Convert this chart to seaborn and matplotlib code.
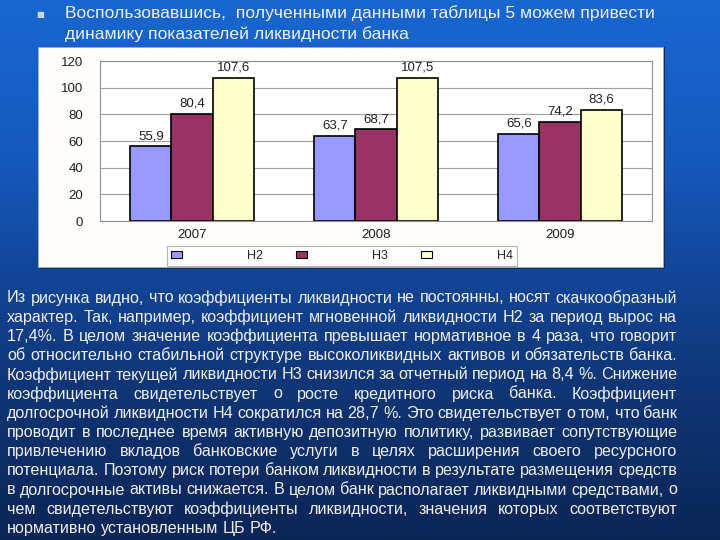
import numpy as np
import pandas as pd
import seaborn as sns
import matplotlib.pyplot as plt
from matplotlib.colors import LinearSegmentedColormap
from matplotlib.patches import Rectangle, Patch

# data
years = ['2007', '2008', '2009']
h2 = [55.9, 63.7, 65.6]
h3 = [80.4, 68.7, 74.2]
h4 = [107.6, 107.5, 83.6]
series_names = ['Н2', 'Н3', 'Н4']
colors = ['#9999FF', '#993366', '#FFFFCC']
y_ticks = [0, 20, 40, 60, 80, 100, 120]

title_lines = ['Воспользовавшись,  полученными данными таблицы 5 можем привести',
               'динамику показателей ликвидности банка']
body_lines = [
    'Из рисунка  видно, что коэффициенты ликвидности не постоянны, носят скачкообразный',
    'характер. Так, например, коэффициент мгновенной ликвидности Н2 за период вырос на',
    '17,4%. В целом значение коэффициента превышает нормативное в 4 раза, что говорит',
    'об относительно стабильной структуре высоколиквидных активов и обязательств банка.',
    'Коэффициент текущей ликвидности Н3 снизился за отчетный период на 8,4 %. Снижение',
    'коэффициента свидетельствует о росте кредитного риска банка. Коэффициент',
    'долгосрочной ликвидности Н4 сократился на 28,7 %. Это свидетельствует о том, что банк',
    'проводит в последнее время активную депозитную политику, развивает сопутствующие',
    'привлечению вкладов банковские услуги в целях расширения своего ресурсного',
    'потенциала. Поэтому риск потери банком ликвидности в результате размещения средств',
    'в долгосрочные активы снижается. В целом банк располагает ликвидными средствами, о',
    'чем свидетельствуют коэффициенты ликвидности, значения которых соответствуют',
    'нормативно установленным ЦБ РФ.',
]

df = pd.DataFrame({
    'year': years * 3,
    'ind': [series_names[0]] * 3 + [series_names[1]] * 3 + [series_names[2]] * 3,
    'value': h2 + h3 + h4,
})

sns.set_style('white')
plt.rcParams['font.family'] = ['Liberation Sans', 'DejaVu Sans']

W, H = 720, 540
fig = plt.figure(figsize=(7.2, 5.4), dpi=100)

# slide background, with the chart box drawn on it
bg = fig.add_axes([0, 0, 1, 1], zorder=-10)
cmap = LinearSegmentedColormap.from_list('slide', [
    (0.0, '#1866D0'), (0.3, '#1659BC'), (0.5, '#12469A'),
    (0.7, '#0F3778'), (1.0, '#0B2556')])
bg.imshow(np.linspace(0, 1, 256).reshape(-1, 1), aspect='auto', cmap=cmap,
          extent=[0, 1, 0, 1])
bg.add_patch(Rectangle((40 / W, 1 - 269 / H), 625 / W, 222 / H,
                       transform=bg.transAxes, facecolor='#1A2A50',
                       edgecolor='none'))
bg.add_patch(Rectangle((38 / W, 1 - 267 / H), 625 / W, 220 / H,
                       transform=bg.transAxes, facecolor='#FFFEFB',
                       edgecolor='#B0B0B0', linewidth=0.6))
bg.set_xlim(0, 1)
bg.set_ylim(0, 1)
bg.set_axis_off()

ax = fig.add_axes([100 / W, 1 - 221 / H, 552 / W, 160 / H], zorder=5)
sns.barplot(data=df, x='year', y='value', hue='ind', palette=colors,
            width=0.67, edgecolor='black', linewidth=1.2, saturation=1,
            legend=False, ax=ax)
ax.set_ylim(0, 120)
ax.set_yticks(y_ticks)
ax.set_xlabel('')
ax.set_ylabel('')
ax.set_facecolor('white')
ax.yaxis.grid(True, color='#A0A0A0', linewidth=0.8)
ax.set_axisbelow(True)
for s in ax.spines.values():
    s.set_color('#909090')
    s.set_linewidth(0.8)
ax.tick_params(axis='both', labelsize=9.5, colors='#202020', length=0, pad=12)
ax.tick_params(axis='x', pad=6)
for cont in ax.containers:
    labels = [f'{b.get_height():.1f}'.replace('.', ',') for b in cont]
    ax.bar_label(cont, labels=labels, fontsize=9.5, padding=3, color='#202020')

handles = [Patch(facecolor=c, edgecolor='black', linewidth=0.8) for c in colors]
leg = fig.legend(handles, series_names, loc='center', ncol=3,
                 bbox_to_anchor=(342 / W, 1 - 256 / H), fontsize=9,
                 handlelength=0.9, handleheight=0.5, handletextpad=5.2,
                 columnspacing=2.6, frameon=True, fancybox=False,
                 borderpad=0.3)
leg.set_zorder(6)
leg.get_frame().set_edgecolor('#A0A0A0')
leg.get_frame().set_linewidth(0.8)

# title with bullet
fig.text(40 / W, 1 - 14 / H, '■', fontsize=6, color='#C8D8F0',
         ha='center', va='center', family=['DejaVu Sans'])
for i, line in enumerate(title_lines):
    fig.text(65 / W, 1 - (13 + 21 * i) / H, line, fontsize=12.6,
             color='#EEF3FF', va='center')

# justified body text, size chosen so the widest line still fits
fig.canvas.draw()
renderer = fig.canvas.get_renderer()
left_px, right_px = 7, 677
base = 10.5
probe = fig.text(0, 0, '', fontsize=base)
need = 0
for line in body_lines[:-1]:
    words = line.split()
    tot = 0
    for w in words:
        probe.set_text(w)
        tot += probe.get_window_extent(renderer).width
    need = max(need, tot + 3.5 * (len(words) - 1))
probe.remove()
fs = min(12.5, base * (right_px - left_px) / need)

y0, dy = 298, 19.2
for i, line in enumerate(body_lines):
    y = 1 - (y0 + dy * i) / H
    words = line.split()
    texts = [fig.text(0, y, w, fontsize=fs, color='#F0F0F4', va='center')
             for w in words]
    widths = [t.get_window_extent(renderer).width for t in texts]
    if i == len(body_lines) - 1:
        gap = renderer.points_to_pixels(fs) * 0.28
    else:
        gap = (right_px - left_px - sum(widths)) / (len(words) - 1)
    x = left_px
    for t, wd in zip(texts, widths):
        t.set_x(x / W)
        x += wd + gap

fig.savefig('out.png', dpi=100)
